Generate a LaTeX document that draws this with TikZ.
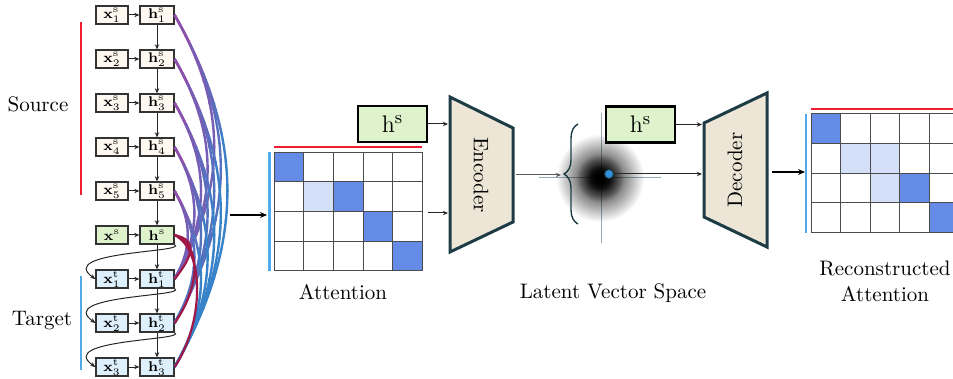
\documentclass[tikz,border=0pt]{standalone}
\usetikzlibrary{arrows.meta,decorations.pathreplacing,fadings}
\definecolor{cpurple}{RGB}{150,75,170}
\definecolor{cblue}{RGB}{55,130,200}
\definecolor{ccrim}{RGB}{160,25,70}
\definecolor{cred}{RGB}{240,30,50}
\definecolor{clblue}{RGB}{80,170,235}
\definecolor{cdark}{RGB}{100,140,230}
\definecolor{clight}{RGB}{212,224,247}
\definecolor{cenc}{RGB}{237,230,214}
\definecolor{cencb}{RGB}{30,60,70}
\definecolor{cgreen}{RGB}{222,242,204}
\definecolor{csrc}{RGB}{255,248,240}
\definecolor{ctgt}{RGB}{221,240,251}
\definecolor{caxis}{RGB}{150,170,180}
\definecolor{cdot}{RGB}{50,145,220}
\tikzfading[name=blobfade, inner color=transparent!0, outer color=transparent!100]
\begin{document}
\begin{tikzpicture}[x=0.5pt,y=-0.5pt,
  >={Stealth[length=2.6pt,width=2.2pt]},
  nbox/.style={draw=black!80, line width=0.6pt, inner sep=0pt, minimum height=9pt, font=\scriptsize},
  xnode/.style={nbox, minimum width=16pt},
  hnode/.style={nbox, minimum width=17pt},
  srcn/.style={fill=csrc}, hsn/.style={fill=cgreen}, tgtn/.style={fill=ctgt},
  link/.style={->, line width=0.5pt, black!85},
  lbl/.style={font=\fontsize{10.5}{13}\selectfont},
  big/.style={draw=black, line width=1.2pt, fill=cgreen, minimum width=34.5pt, minimum height=18pt, inner sep=0pt, font=\fontsize{13}{15}\selectfont},
  trap/.style={draw=cencb, line width=1.5pt, fill=cenc, line join=miter},
  gridc/.style={draw=black!70, line width=0.5pt},
  redbar/.style={cred, line width=1.4pt},
  bluebar/.style={clblue, line width=1.4pt}
]
\useasboundingbox (0,0) rectangle (953,379);

% ---------- left column of nodes ----------
\foreach \i/\y in {1/15,2/59,3/103,4/147,5/191} {
  \node[xnode,srcn] (xs\i) at (112,\y) {$\mathbf{x}^{\mathrm{s}}_{\i}$};
  \node[hnode,srcn] (hs\i) at (157,\y) {$\mathbf{h}^{\mathrm{s}}_{\i}$};
  \draw[link] (xs\i) -- (hs\i);
}
\node[xnode,hsn] (xs) at (112,235) {$\mathbf{x}^{\mathrm{s}}$};
\node[hnode,hsn] (hs) at (157,235) {$\mathbf{h}^{\mathrm{s}}$};
\draw[link] (xs) -- (hs);
\foreach \i/\y in {1/279,2/323,3/367} {
  \node[xnode,tgtn] (xt\i) at (112,\y) {$\mathbf{x}^{\mathrm{t}}_{\i}$};
  \node[hnode,tgtn] (ht\i) at (157,\y) {$\mathbf{h}^{\mathrm{t}}_{\i}$};
  \draw[link] (xt\i) -- (ht\i);
}
\foreach \a/\b in {hs1/hs2,hs2/hs3,hs3/hs4,hs4/hs5,hs5/hs,hs/ht1,ht1/ht2,ht2/ht3}
  \draw[link] (\a) -- (\b);
\foreach \a/\b in {hs/xt1,ht1/xt2,ht2/xt3}
  \draw[link] (\a.south east) .. controls +(14,8) and +(-40,-28) .. (\b.west);

\draw[redbar] (81,22) -- (81,195);
\draw[bluebar] (81,276) -- (81,370);
\node[lbl] (src) at (38,104) {Source};
\node[lbl] (tgt) at (42,321) {Target};

% ---------- attention curves ----------
\foreach \j/\yb/\w in {1/279/35,2/323/70,3/367/100} {
  \foreach \i/\ya in {1/15,2/59,3/103,4/147,5/191} {
    \pgfmathsetmacro\dd{\yb-\ya}
    \pgfmathsetmacro\cx{0.2*\dd}
    \pgfmathsetmacro\cy{0.35*\dd}
    \foreach \k in {0,...,11} {
      \pgfmathsetmacro\yka{\ya+\k*\dd/12-(\k==0)*6-0.3}
      \pgfmathsetmacro\ykb{\ya+(\k+1)*\dd/12+(\k==11)*6+0.3}
      \pgfmathtruncatemacro\p{100-min(1,(\k+0.5)/12/0.4)*\w}
      \colorlet{cc}{cpurple!\p!cblue}
      \begin{scope}
        \clip (160,\yka) rectangle (250,\ykb);
        \draw[cc, line width=1.2pt] (hs\i.east) .. controls +(\cx,\cy) and +(\cx,-\cy) .. (ht\j.east);
      \end{scope}
    }
  }
}
\draw[ccrim, line width=1.1pt] (hs.east) .. controls +(22,5) and +(20,-25) .. (ht1.east);
\draw[ccrim, line width=1.1pt] (hs.east) .. controls +(28,10) and +(25,-35) .. (ht2.east);
\draw[ccrim, line width=1.1pt] (hs.east) .. controls +(30,15) and +(30,-45) .. (ht3.east);

\coordinate (bundle) at (230,215);
\coordinate (matAin) at (267,215);
\draw[->, line width=0.9pt, >={Stealth[length=3.5pt,width=3pt]}] (bundle) -- (matAin);

% ---------- attention matrix ----------
\foreach \r/\c/\col in {0/0/cdark,1/1/clight,1/2/cdark,2/3/cdark,3/4/cdark}
  \fill[\col] ({274.3+\c*29.6},{152.3+\r*29.6}) rectangle ++(29.6,29.6);
\foreach \c in {0,...,5} \draw[gridc] ({274.3+\c*29.6},152.3) -- ++(0,118.4);
\foreach \r in {0,...,4} \draw[gridc] (274.3,{152.3+\r*29.6}) -- ++(148,0);
\draw[redbar] (274,147) -- (422,147);
\draw[bluebar] (269.5,152) -- (269.5,271);
\node[lbl] (attA) at (343,292) {Attention};

% ---------- encoder ----------
\node[big] (hA) at (392.5,124) {$\mathrm{h}^{\mathrm{s}}$};
\draw[trap] (450,97) -- (513,128) -- (513,222) -- (450,252) -- cycle;
\node[lbl, rotate=-90] (enc) at (481,175) {Encoder};
\coordinate (encin1) at (448,124);
\coordinate (encin2) at (448,213);
\coordinate (matAout) at (428,213);
\coordinate (encout) at (516,175);
\draw[link] (hA.east) -- (encin1);
\draw[link] (matAout) -- (encin2);

% ---------- latent space ----------
\draw[caxis, line width=0.5pt] (601,113) -- (601,243);
\draw[caxis, line width=0.5pt] (539,178) -- (661,178);
\fill[black, path fading=blobfade] (600,178) circle (22pt);
\fill[black, path fading=blobfade] (600,178) circle (12pt);
\fill[black, path fading=blobfade] (600,178) circle (7pt);
\draw[cencb, line width=0.7pt, decorate, decoration={brace, amplitude=7pt}] (578,224) -- (578,124);
\coordinate (bracetip) at (561,175);
\draw[link, black!65] (encout) -- (bracetip);
\node[circle, fill=cdot, draw=cencb, line width=0.5pt, inner sep=0pt, minimum size=4.5pt] (dot) at (609,174) {};
\node[lbl] (lat) at (613,293) {Latent Vector Space};

% ---------- decoder ----------
\node[big] (hB) at (640.5,124.5) {$\mathrm{h}^{\mathrm{s}}$};
\draw[trap] (704,123) -- (767,93) -- (767,247) -- (704,217) -- cycle;
\node[lbl, rotate=90] (dec) at (735,170) {Decoder};
\coordinate (decin1) at (702,124.5);
\coordinate (decin2) at (702,174);
\coordinate (decout) at (772,172);
\coordinate (matBin) at (805,172);
\draw[link] (hB.east) -- (decin1);
\draw[link] (dot.east) -- (decin2);
\draw[->, line width=0.9pt, >={Stealth[length=3.5pt,width=3pt]}] (decout) -- (matBin);

% ---------- reconstructed matrix ----------
\begin{scope}
\clip (800,100) rectangle (953,240);
\foreach \r/\c/\col in {0/0/cdark,1/1/clight,1/2/clight,2/2/clight,2/3/cdark,3/4/cdark}
  \fill[\col] ({811+\c*29.6},{114+\r*29.6}) rectangle ++(29.6,29.6);
\foreach \c in {0,...,5} \draw[gridc] ({811+\c*29.6},114) -- ++(0,118.4);
\foreach \r in {0,...,4} \draw[gridc] (811,{114+\r*29.6}) -- ++(148,0);
\draw[redbar] (811,109) -- (953,109);
\end{scope}
\draw[bluebar] (806,114) -- (806,233);
\node[lbl, align=center] (attB) at (885,281) {Reconstructed\\Attention};
\end{tikzpicture}
\end{document}
